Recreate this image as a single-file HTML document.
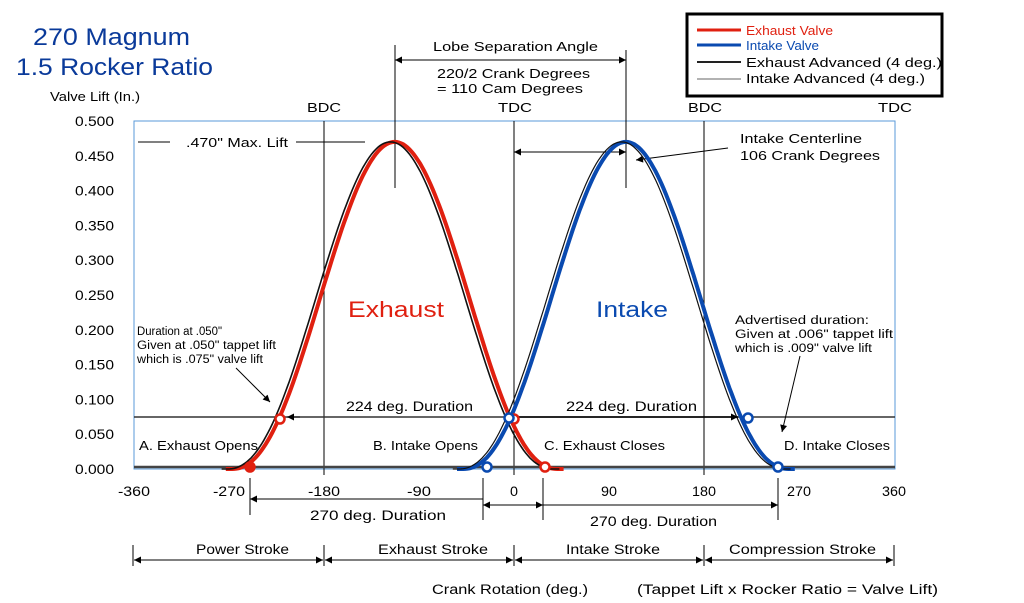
<!DOCTYPE html>
<html><head><meta charset="utf-8"><style>
html,body{margin:0;padding:0;background:#fff}
svg{display:block;font-family:"Liberation Sans",sans-serif}
</style></head><body>
<svg id="s" width="1024" height="603" viewBox="0 0 1024 603" xmlns="http://www.w3.org/2000/svg">
<defs>
<marker id="a" viewBox="0 0 10 10" refX="10" refY="5" markerWidth="10" markerHeight="7" orient="auto-start-reverse" markerUnits="userSpaceOnUse"><path d="M0,0L10,5L0,10z" fill="#000"/></marker>
</defs>
<text x="33" y="45" font-size="24" fill="#0a3a9a" textLength="157" lengthAdjust="spacingAndGlyphs">270 Magnum</text>
<text x="16" y="75" font-size="24" fill="#0a3a9a" textLength="197" lengthAdjust="spacingAndGlyphs">1.5 Rocker Ratio</text>
<text x="50" y="101" font-size="12.5" textLength="90" lengthAdjust="spacingAndGlyphs">Valve Lift (In.)</text>
<rect x="134" y="121" width="761" height="348" fill="none" stroke="#5a9ad8" stroke-width="1"/>
<g id="yl" font-size="13.5" text-anchor="end"></g>
<g id="xl" font-size="13.5" text-anchor="middle"></g>
<line x1="324" y1="121" x2="324" y2="475" stroke="#000" stroke-width="1"/>
<line x1="514" y1="121" x2="514" y2="475" stroke="#000" stroke-width="1"/>
<line x1="704" y1="121" x2="704" y2="475" stroke="#000" stroke-width="1"/>
<line x1="395" y1="45" x2="395" y2="188" stroke="#000"/>
<line x1="626" y1="50" x2="626" y2="188" stroke="#000"/>
<text x="307" y="112" font-size="13" textLength="34" lengthAdjust="spacingAndGlyphs">BDC</text>
<text x="498" y="112" font-size="13" textLength="34" lengthAdjust="spacingAndGlyphs">TDC</text>
<text x="688" y="112" font-size="13" textLength="34" lengthAdjust="spacingAndGlyphs">BDC</text>
<text x="878" y="112" font-size="13" textLength="34" lengthAdjust="spacingAndGlyphs">TDC</text>
<line x1="395" y1="60" x2="626" y2="60" stroke="#000" marker-start="url(#a)" marker-end="url(#a)"/>
<text x="433" y="51" font-size="13" textLength="165" lengthAdjust="spacingAndGlyphs">Lobe Separation Angle</text>
<text x="437" y="78" font-size="13" textLength="153" lengthAdjust="spacingAndGlyphs">220/2 Crank Degrees</text>
<text x="437" y="93" font-size="13" textLength="146" lengthAdjust="spacingAndGlyphs">= 110 Cam Degrees</text>
<line x1="138" y1="142" x2="170" y2="142" stroke="#000"/>
<line x1="296" y1="142" x2="365" y2="142" stroke="#000"/>
<text x="186" y="147" font-size="13" textLength="102" lengthAdjust="spacingAndGlyphs">.470" Max. Lift</text>
<line x1="514" y1="152" x2="626" y2="152" stroke="#000" marker-start="url(#a)" marker-end="url(#a)"/>
<line x1="728" y1="148" x2="636" y2="160" stroke="#000" marker-end="url(#a)"/>
<text x="740" y="143" font-size="13" textLength="122" lengthAdjust="spacingAndGlyphs">Intake Centerline</text>
<text x="740" y="160" font-size="13" textLength="140" lengthAdjust="spacingAndGlyphs">106 Crank Degrees</text>
<line x1="134" y1="417" x2="895" y2="417" stroke="#333" stroke-width="1.5"/>
<line x1="134" y1="467" x2="895" y2="467" stroke="#444" stroke-width="2.5"/>
<g id="curves"></g>
<text x="348" y="317" font-size="22" fill="#e02010" textLength="96" lengthAdjust="spacingAndGlyphs">Exhaust</text>
<text x="596" y="317" font-size="22" fill="#0a4ab0" textLength="72" lengthAdjust="spacingAndGlyphs">Intake</text>
<line x1="287" y1="417" x2="300" y2="417" stroke="#000" marker-start="url(#a)"/>
<text x="346" y="411" font-size="13.5" textLength="127" lengthAdjust="spacingAndGlyphs">224 deg. Duration</text>
<text x="566" y="411" font-size="13.5" textLength="131" lengthAdjust="spacingAndGlyphs">224 deg. Duration</text>
<line x1="515" y1="417" x2="738" y2="417" stroke="#000" stroke-width="1.5" marker-end="url(#a)"/>
<text x="137" y="335" font-size="11.5" textLength="85" lengthAdjust="spacingAndGlyphs">Duration at .050"</text>
<text x="137" y="349" font-size="11.5" textLength="139" lengthAdjust="spacingAndGlyphs">Given at .050" tappet lift</text>
<text x="137" y="363" font-size="11.5" textLength="126" lengthAdjust="spacingAndGlyphs">which is .075" valve lift</text>
<line x1="236" y1="368" x2="270" y2="402" stroke="#000" marker-end="url(#a)"/>
<text x="735" y="324" font-size="11.5" textLength="134" lengthAdjust="spacingAndGlyphs">Advertised duration:</text>
<text x="735" y="338" font-size="11.5" textLength="158" lengthAdjust="spacingAndGlyphs">Given at .006" tappet lift</text>
<text x="735" y="352" font-size="11.5" textLength="137" lengthAdjust="spacingAndGlyphs">which is .009" valve lift</text>
<line x1="800" y1="356" x2="782" y2="432" stroke="#000" marker-end="url(#a)"/>
<text x="139" y="450" font-size="12.5" textLength="119" lengthAdjust="spacingAndGlyphs">A. Exhaust Opens</text>
<text x="373" y="450" font-size="12.5" textLength="105" lengthAdjust="spacingAndGlyphs">B. Intake Opens</text>
<text x="544" y="450" font-size="12.5" textLength="121" lengthAdjust="spacingAndGlyphs">C. Exhaust Closes</text>
<text x="784" y="450" font-size="12.5" textLength="106" lengthAdjust="spacingAndGlyphs">D. Intake Closes</text>
<g id="dots"></g>
<line x1="250" y1="478" x2="250" y2="515" stroke="#000"/>
<line x1="483" y1="478" x2="483" y2="520" stroke="#000"/>
<line x1="543" y1="478" x2="543" y2="520" stroke="#000"/>
<line x1="778" y1="478" x2="778" y2="520" stroke="#000"/>
<line x1="250" y1="499" x2="483" y2="499" stroke="#000" marker-start="url(#a)"/>
<line x1="483" y1="505" x2="543" y2="505" stroke="#000" marker-start="url(#a)" marker-end="url(#a)"/>
<line x1="543" y1="505" x2="778" y2="505" stroke="#000" marker-end="url(#a)"/>
<text x="310" y="520" font-size="14" textLength="136" lengthAdjust="spacingAndGlyphs">270 deg. Duration</text>
<text x="590" y="526" font-size="14" textLength="127" lengthAdjust="spacingAndGlyphs">270 deg. Duration</text>
<g stroke="#000">
<line x1="133" y1="545" x2="133" y2="566"/><line x1="324" y1="545" x2="324" y2="566"/>
<line x1="514" y1="545" x2="514" y2="566"/><line x1="704" y1="545" x2="704" y2="566"/>
<line x1="894" y1="545" x2="894" y2="566"/>
<line x1="134" y1="560" x2="323" y2="560" marker-start="url(#a)" marker-end="url(#a)"/>
<line x1="325" y1="560" x2="513" y2="560" marker-start="url(#a)" marker-end="url(#a)"/>
<line x1="515" y1="560" x2="703" y2="560" marker-start="url(#a)" marker-end="url(#a)"/>
<line x1="705" y1="560" x2="893" y2="560" marker-start="url(#a)" marker-end="url(#a)"/>
</g>
<text x="196" y="554" font-size="13.5" textLength="93" lengthAdjust="spacingAndGlyphs">Power Stroke</text>
<text x="378" y="554" font-size="13.5" textLength="110" lengthAdjust="spacingAndGlyphs">Exhaust Stroke</text>
<text x="566" y="554" font-size="13.5" textLength="94" lengthAdjust="spacingAndGlyphs">Intake Stroke</text>
<text x="729" y="554" font-size="13.5" textLength="147" lengthAdjust="spacingAndGlyphs">Compression Stroke</text>
<text x="432" y="594" font-size="13.5" textLength="156" lengthAdjust="spacingAndGlyphs">Crank Rotation (deg.)</text>
<text x="637" y="594" font-size="13.5" textLength="301" lengthAdjust="spacingAndGlyphs">(Tappet Lift  x  Rocker Ratio  =  Valve Lift)</text>
<rect x="687" y="14" width="255" height="82" fill="#fff" stroke="#000" stroke-width="3"/>
<line x1="697" y1="30" x2="741" y2="30" stroke="#e02010" stroke-width="3"/>
<line x1="697" y1="45" x2="741" y2="45" stroke="#0a4ab0" stroke-width="3"/>
<line x1="697" y1="62" x2="741" y2="62" stroke="#222" stroke-width="2"/>
<line x1="697" y1="79" x2="741" y2="79" stroke="#666" stroke-width="1"/>
<text x="746" y="35" font-size="13" fill="#e02010" textLength="87" lengthAdjust="spacingAndGlyphs">Exhaust Valve</text>
<text x="746" y="50" font-size="13" fill="#0a4ab0" textLength="73" lengthAdjust="spacingAndGlyphs">Intake Valve</text>
<text x="746" y="67" font-size="13" textLength="196" lengthAdjust="spacingAndGlyphs">Exhaust Advanced (4 deg.)</text>
<text x="746" y="83" font-size="13" textLength="179" lengthAdjust="spacingAndGlyphs">Intake Advanced (4 deg.)</text>
</svg>
<script>
var NS="http://www.w3.org/2000/svg";
function X(d){return 514+d*1.0556}
function Y(v){return 469-v*696}
function el(g,t,a){var e=document.createElementNS(NS,t);for(var k in a)e.setAttribute(k,a[k]);document.getElementById(g).appendChild(e);return e}
var yl=["0.000","0.050","0.100","0.150","0.200","0.250","0.300","0.350","0.400","0.450","0.500"];
yl.forEach(function(s,i){el("yl","text",{x:114,y:Y(i*0.05)+5,textLength:39,lengthAdjust:"spacingAndGlyphs"}).textContent=s});
for(var d=-360;d<=360;d+=90){var s=String(d);el("xl","text",{x:X(d),y:496,textLength:s.length*8,lengthAdjust:"spacingAndGlyphs"}).textContent=s}
function path(c){var p="";for(var d=-160;d<=160;d+=2){var t=Math.cos(Math.PI/2*d/155);var v=d*d>=155*155?0:0.47*Math.pow(Math.max(t,0),2.3);p+=(p?"L":"M")+X(c+d).toFixed(1)+","+Y(v).toFixed(1)}return p}
el("curves","path",{d:path(-113),fill:"none",stroke:"#e02010","stroke-width":4});
el("curves","path",{d:path(-117),fill:"none",stroke:"#111","stroke-width":1.6});
el("curves","path",{d:path(106),fill:"none",stroke:"#0a4ab0","stroke-width":4});
el("curves","path",{d:path(102),fill:"none",stroke:"#111","stroke-width":1.2});
[[280,419,"#e02010","#fff"],[514,419,"#e02010","#fff"],[545,467,"#e02010","#fff"],[250,467,"#e02010","#e02010"],[509,418,"#0a4ab0","#fff"],[748,418,"#0a4ab0","#fff"],[487,467,"#0a4ab0","#fff"],[778,467,"#0a4ab0","#fff"]].forEach(function(a){el("dots","circle",{cx:a[0],cy:a[1],r:4.5,fill:a[3],stroke:a[2],"stroke-width":2.5})});
</script>
</body></html>
